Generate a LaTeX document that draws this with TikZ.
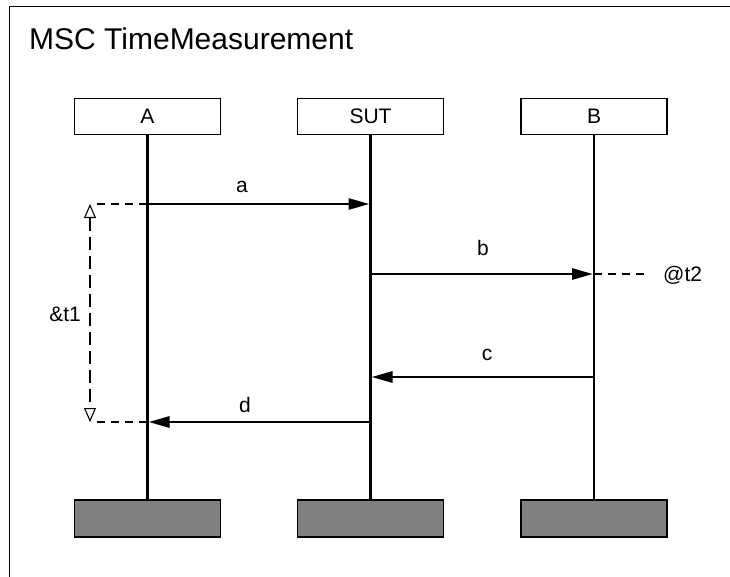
\documentclass[tikz,border=0pt]{standalone}
\usepackage{fontspec}
\setmainfont{Liberation Sans}
\usetikzlibrary{arrows.meta}
\definecolor{footgray}{RGB}{128,128,128}
\begin{document}
\begin{tikzpicture}[x=1pt,y=-1pt,
  head/.style={draw, line width=1.4pt, minimum width=146pt, minimum height=36pt, inner sep=0pt, fill=white, font=\fontsize{21}{24}\selectfont},
  foot/.style={draw, line width=1.6pt, minimum width=146pt, minimum height=36.5pt, inner sep=0pt, fill=footgray},
  life/.style={line width=2.9pt},
  msg/.style={line width=2.8pt, -{Triangle[length=21pt,width=11pt]}, shorten >=1pt},
  lbl/.style={font=\fontsize{21}{24}\selectfont, inner sep=0pt},
  thin dash/.style={line width=1.1pt, dash pattern=on 8pt off 6pt},
  meas/.style={line width=1.1pt, dash pattern=on 13pt off 6pt, {Triangle[open,length=14pt,width=12pt,fill=white]}-{Triangle[open,length=14pt,width=12pt,fill=white]}}
]
\useasboundingbox (0,0) rectangle (730,576);
\clip (0,0) rectangle (730,576);
\draw[line width=1.6pt] (9.5,6.5) rectangle (745,595);
\node[anchor=base west, inner sep=0pt, font=\fontsize{30}{34}\selectfont] (title) at (29,49) {MSC TimeMeasurement};

% instance heads
\node[head] (hA) at (147.5,116.5) {A};
\node[head] (hS) at (370.5,116.5) {SUT};
\node[head] (hB) at (594,116.5) {B};
% instance ends
\node[foot] (fA) at (147.5,518.5) {};
\node[foot] (fS) at (370.5,518.5) {};
\node[foot] (fB) at (594,518.5) {};
% lifelines
\draw[life] (hA.south) -- (fA.north);
\draw[life] (hS.south) -- (fS.north);
\draw[life] (hB.south) -- (fB.north);

% message points
\coordinate (a0) at (147.5,204);
\coordinate (a1) at (370.5,204);
\coordinate (b0) at (370.5,274);
\coordinate (b1) at (594,274);
\coordinate (c0) at (594,377);
\coordinate (c1) at (370.5,377);
\coordinate (d0) at (370.5,422);
\coordinate (d1) at (147.5,422);

\draw[msg] (a0) -- (a1);
\draw[msg] (b0) -- (b1);
\draw[msg] (c0) -- (c1);
\draw[msg] (d0) -- (d1);

\node[lbl] (la) at (242,187) {a};
\node[lbl] (lb) at (483,248) {b};
\node[lbl] (lc) at (487,355) {c};
\node[lbl] (ld) at (245,405) {d};

% time measurement &t1
\coordinate (mt) at (90,204);
\coordinate (mb) at (90,422);
\coordinate (mtd) at (97,204);
\coordinate (mbd) at (97,422);
\draw[thin dash] (mtd) -- (a0);
\draw[thin dash] (mbd) -- (d1);
\draw[meas] (mt) -- (mb);
\node[lbl, anchor=east] (t1) at (81,314) {\&t1};

% absolute time @t2
\coordinate (t2e) at (648,274);
\draw[thin dash] (b1) -- (t2e);
\node[lbl, anchor=west] (t2) at (663,275) {@t2};
\end{tikzpicture}
\end{document}
